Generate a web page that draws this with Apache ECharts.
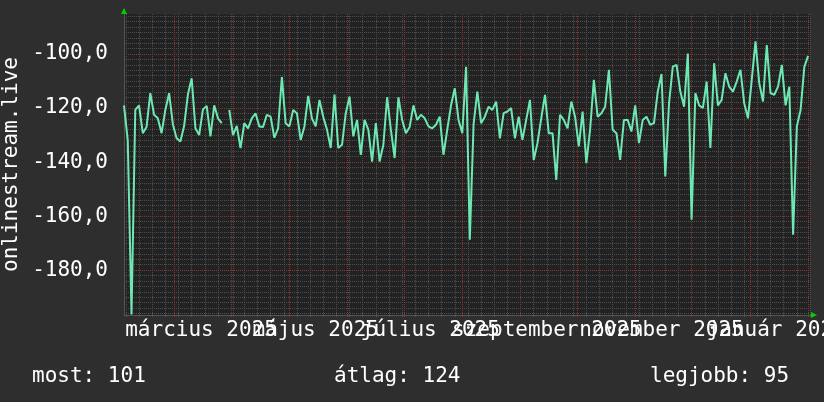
<!DOCTYPE html>
<html>
<head>
<meta charset="utf-8" />
<title>onlinestream.live</title>
<script src="https://cdn.jsdelivr.net/npm/echarts@6/dist/echarts.min.js"></script>
<style>
  html, body { margin: 0; padding: 0; background: #2e2e2e; }
  #main { width: 824px; height: 402px; }
</style>
</head>
<body>
<div id="main"></div>
<script>
// egy pont = 2 nap, 2025-02-02-tol (0. nap)
var stepDays = 2;
var seg1 = [-119, -132, -196.4, -120.7, -119, -129.3, -127, -114.5, -122.5, -123.8, -129.3, -120.7, -114.5, -126, -131.2, -132.4, -126.6, -115, -109, -127.5, -130, -120.5, -119.2, -130.5, -119, -123.8, -125.6, null, -120.7, -130, -126.6, -134.8, -125.6, -127.5, -123.8, -122, -126.8];
var seg2 = [-127, -122.5, -123.2, -131, -127.5, -108.5, -125.6, -126.8, -120.7, -121.9, -131.8, -126.8, -115.5, -123.8, -126.8, -117, -123.2, -128, -134.8, -115, -134.8, -133.6, -121.9, -115.8, -130.5, -124.4, -137.3, -124.4, -128, -139.8, -125.6, -139.8, -133.6, -116, -128, -138.5, -116];
var seg3 = [-124.4, -129.3, -127, -119, -124.4, -122.5, -123.8, -126.8, -127.5, -126.2, -123.2, -137.3, -128, -119, -112.7, -124.4, -129.3, -104.7, -168.7, -126, -113.9, -125.6, -123.2, -119.5, -120.7, -117.6, -131.2, -121.9, -121.3, -120, -131.2, -123.2, -131.8, -124.4, -117, -139.2];
var seg4 = [-133, -123.8, -115.1, -129.3, -129.3, -146.6, -122.5, -124.4, -127.5, -117.6, -123.2, -134.2, -121.3, -140.4, -128, -109.6, -123.2, -121.9, -119.5, -105.9, -128, -129.3, -139.2, -124.4, -124.4, -128.7, -119, -133, -124.4, -123.2, -126.2, -125.6, -113.9, -107.4, -145.3, -118.2, -104.7];
var seg5 = [-104, -113.9, -119.5, -99.8, -161.3, -114.5, -119, -120, -110.2, -134.8, -103.4, -119, -117, -107.1, -112.1, -113.9, -110.2, -105.9, -118.2, -123.8, -109.6, -95.3, -110.8, -117.6, -96.7, -114.5, -115.1, -112.1, -104, -119, -112.1, -166.9, -126.8, -120.7, -104.7, -100.7];

// x tengely: napok
var labelDays = [41, 102, 163, 225, 286, 347];
var labelNames = ["március 2025", "május 2025", "július 2025", "szeptember 2025", "november 2025", "január 2026"];
var monthDays = [27, 58, 88, 119, 149, 180, 211, 241, 272, 302, 333, 364];
var yMajor = [-180, -160, -140, -120, -100];
var stats = ["most: 101", "átlag: 124", "legjobb: 95"];

var yMin = -196.6, yMax = -85.2;
var font = "DejaVu Sans Mono";

var ping = seg1.concat(seg2, seg3, seg4, seg5);
var points = ping.map(function (v, i) { return [i * stepDays, v]; });

// heti (hetfo) es 2 egysegenkenti racsvonalak
var weekDays = [];
for (var d = 1; d <= 365; d += 7) weekDays.push(d);
var yMinor = [];
for (var y = -196; y <= -86; y += 2) yMinor.push(y);

var grey = { color: "#4e4e4e", type: [1, 1], width: 1 };
var red = { color: "#8a3434", type: [1, 1], width: 1 };

var chart = echarts.init(document.getElementById("main"), null, { renderer: "canvas" });
var option = {
  backgroundColor: "#2e2e2e",
  animation: false,
  grid: {
    left: 124, right: 14, top: 14, bottom: 87,
    outerBoundsMode: "none", containLabel: false,
    show: true, backgroundColor: "#222222", borderWidth: 0
  },
  xAxis: [
    {
      type: "value", min: 0, max: 365,
      axisLine: { show: true, lineStyle: { color: "#555" } },
      axisTick: { show: true, length: 2, customValues: weekDays, lineStyle: { color: "#555" } },
      splitLine: { show: true, lineStyle: grey },
      axisLabel: { show: false }
    },
    {
      type: "value", min: 0, max: 365, position: "bottom",
      axisLine: { show: false },
      axisTick: { show: true, length: 2, customValues: monthDays, lineStyle: { color: "#8a3434" } },
      splitLine: { show: true, lineStyle: red },
      axisLabel: { show: false }
    }
  ],
  yAxis: [
    {
      type: "value", min: yMin, max: yMax, position: "left",
      name: "onlinestream.live", nameLocation: "middle", nameGap: 102, nameRotate: 90,
      nameTextStyle: { color: "#ffffff", fontFamily: font, fontSize: 21 },
      axisLine: { show: true, lineStyle: { color: "#555" } },
      axisTick: { show: false, customValues: yMinor },
      splitLine: { show: true, lineStyle: grey },
      axisLabel: { show: false }
    },
    {
      type: "value", min: yMin, max: yMax, position: "left",
      axisLine: { show: false },
      axisTick: { show: false, customValues: yMajor },
      splitLine: { show: true, lineStyle: red },
      axisLabel: {
        customValues: yMajor,
        color: "#ffffff", fontFamily: font, fontSize: 21, margin: 16,
        formatter: function (v) { return v.toFixed(1).replace(".", ","); }
      }
    }
  ],
  series: [
    {
      type: "line",
      data: points,
      xAxisIndex: 0, yAxisIndex: 0,
      showSymbol: false,
      connectNulls: false,
      lineStyle: { color: "#6ee8b2", width: 2 },
      itemStyle: { color: "#6ee8b2" },
      z: 5
    }
  ],
  graphic: [
    // zold nyilak a tengelyek vegen
    { id: "arrUp", type: "polygon", shape: { points: [[121, 14], [127, 14], [124, 8]] }, style: { fill: "#00d000" }, z: 10 },
    { id: "arrRight", type: "polygon", shape: { points: [[811, 312], [811, 318], [817, 315]] }, style: { fill: "#00d000" }, z: 10 },
    { id: "st0", type: "text", left: 32, top: 366, style: { text: stats[0], fill: "#ffffff", font: "21px " + font } },
    { id: "st1", type: "text", left: 334, top: 366, style: { text: stats[1], fill: "#ffffff", font: "21px " + font } },
    { id: "st2", type: "text", left: 650, top: 366, style: { text: stats[2], fill: "#ffffff", font: "21px " + font } }
  ]
};
chart.setOption(option);

// honap feliratok: a tengely skalajabol szamolt helyre, atfedessel, mint az eredetin
var axisY = chart.convertToPixel({ yAxisIndex: 0 }, yMin);
var labels = labelDays.map(function (day, i) {
  return {
    id: "xl" + i, type: "text",
    x: chart.convertToPixel({ xAxisIndex: 0 }, day), y: axisY + 5,
    style: { text: labelNames[i], fill: "#ffffff", font: "21px " + font, textAlign: "center", textVerticalAlign: "top" }
  };
});
chart.setOption({ graphic: labels });
</script>
</body>
</html>
